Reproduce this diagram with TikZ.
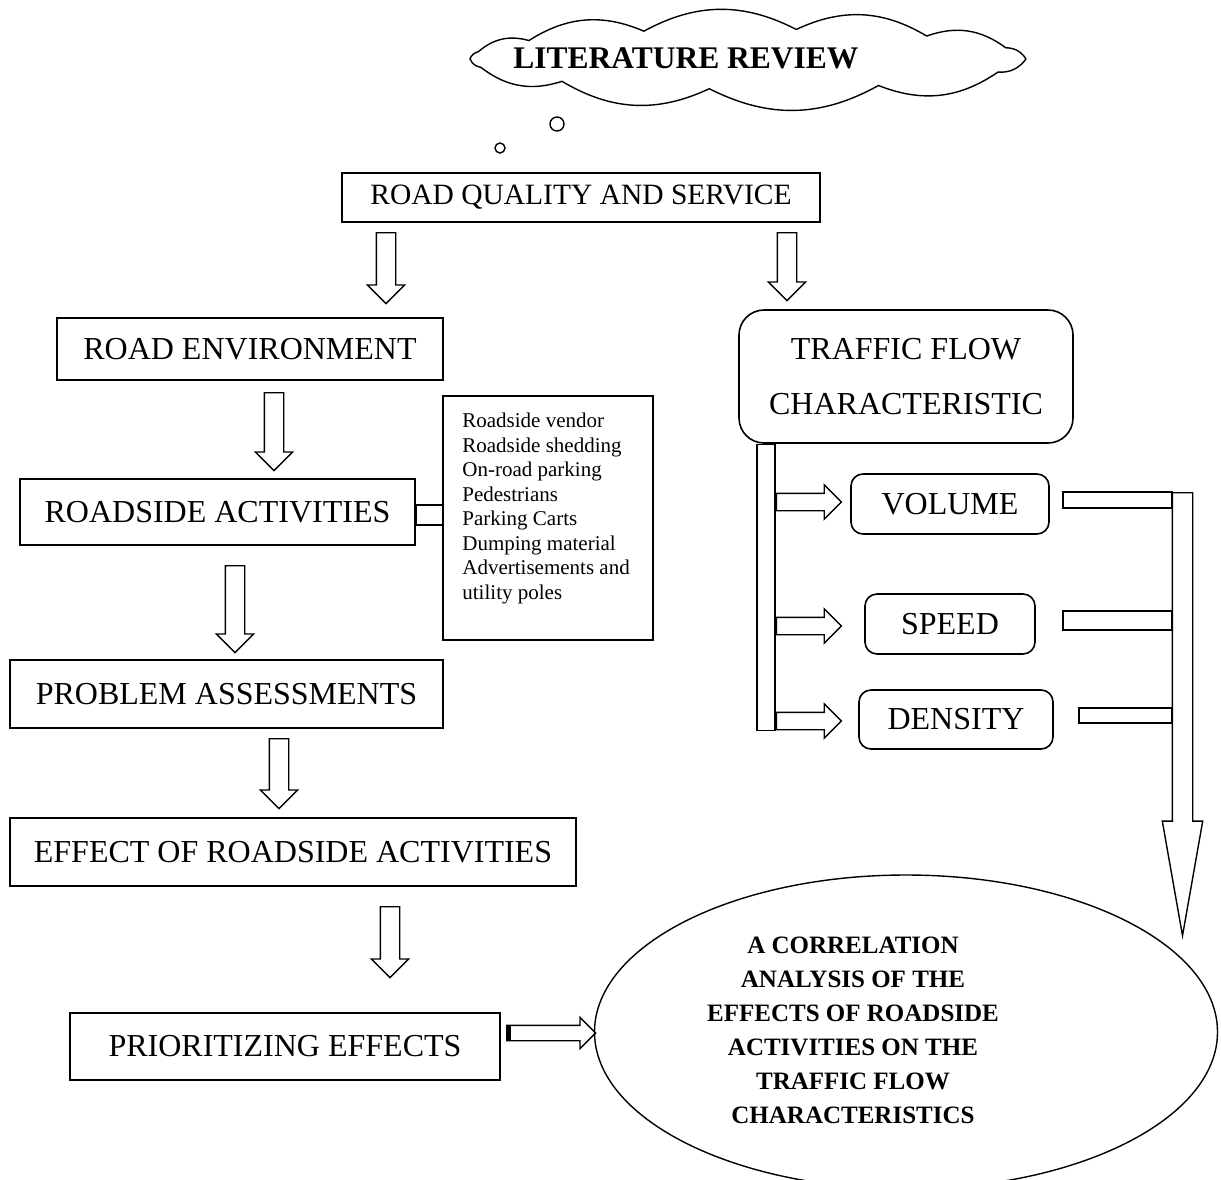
\documentclass[tikz,border=0pt]{standalone}
\usepackage{fontspec}
\setmainfont{Liberation Serif}
\usepackage{tikz}
\usetikzlibrary{positioning,calc,shapes.geometric,shapes.arrows}

\begin{document}
\begin{tikzpicture}[
    x=1pt, y=-1pt,
    box/.style={rectangle, draw, line width=1.6pt, inner sep=0pt, font=\fontsize{32}{38}\selectfont},
    rbox/.style={box, rounded corners=12pt},
    bar/.style={rectangle, draw, line width=1.4pt, inner sep=0pt},
    hollow/.style={single arrow, draw, line width=1.4pt, inner xsep=0pt, inner ysep=9pt, single arrow head extend=9pt, anchor=tail},
    downarrow/.style={hollow, rotate=-90},
    sidearrow/.style={hollow, inner ysep=8pt, single arrow head extend=8.5pt, minimum height=65pt}
]
    \path[use as bounding box, clip] (0,0) rectangle (1221,1179);

    % Cloud and bubbles
    \coordinate (cc) at (748,59);
    \foreach \a [count=\i] in {0,22,50,80,112,142,166,180,196,228,262,298,334}
        \coordinate (cp\i) at ($(cc)+(\a:278pt and 30pt)$);
    \draw[line width=1.4pt] (cp1) \foreach \i in {2,...,13} { to[bend right=28] (cp\i) } to[bend right=28] (cp1);
    \node[font=\bfseries\fontsize{31.5}{36}\selectfont] (lit) at (686,58) {LITERATURE REVIEW};
    \node[circle, draw, line width=1.4pt, minimum size=14pt, inner sep=0pt] (bub1) at (557,124) {};
    \node[circle, draw, line width=1.4pt, minimum size=10pt, inner sep=0pt] (bub2) at (500,148) {};

    % Left column
    \node[box, minimum width=478pt, minimum height=49pt, font=\fontsize{29.5}{35}\selectfont] (rqs) at (581,197.5) {ROAD QUALITY AND SERVICE};
    \node[box, minimum width=386pt, minimum height=62pt] (renv) at (250,349) {ROAD ENVIRONMENT};
    \node[box, minimum width=395pt, minimum height=66pt] (ract) at (217.5,512) {ROADSIDE ACTIVITIES};
    \node[box, minimum width=433pt, minimum height=68pt] (prob) at (226.5,694) {PROBLEM ASSESSMENTS};
    \node[box, minimum width=566pt, minimum height=68pt] (eff) at (293,852) {EFFECT OF ROADSIDE ACTIVITIES};
    \node[box, minimum width=430pt, minimum height=67pt] (prio) at (285,1046.5) {PRIORITIZING EFFECTS};

    % List of activities
    \node[box, minimum width=210pt, minimum height=244pt] (acts) at (548,518) {};
    \node[anchor=north west, align=left, inner sep=0pt, font=\fontsize{21}{24.5}\selectfont] (actlist) at ($(acts.north west)+(20,18)$)
        {Roadside vendor\\Roadside shedding\\On-road parking\\Pedestrians\\Parking Carts\\Dumping material\\Advertisements and\\utility poles};
    \draw[bar] (ract.east |- 0,505) rectangle (acts.west |- 0,525);

    % Right column
    \node[box, rounded corners=25pt, minimum width=334pt, minimum height=133pt, align=center, font=\fontsize{32}{55}\selectfont] (tfc) at (906,376.5) {TRAFFIC FLOW\\CHARACTERISTIC};
    \node[bar, minimum width=18pt, minimum height=286pt, anchor=north] (tfbar) at (tfc.south -| 766,0) {};
    \node[rbox, minimum width=198pt, minimum height=60pt] (vol) at (950,504) {VOLUME};
    \node[rbox, minimum width=170pt, minimum height=60pt] (spd) at (950,624) {SPEED};
    \node[rbox, minimum width=194pt, minimum height=59pt] (dens) at (956,719.5) {DENSITY};
    \node[sidearrow] (avol) at (tfbar.east |- 0,502) {};
    \node[sidearrow] (aspd) at (tfbar.east |- 0,626) {};
    \node[sidearrow] (adens) at (tfbar.east |- 0,721) {};
    \node[bar, minimum width=109pt, minimum height=16pt] (volbar) at (1117.5,500) {};
    \node[bar, minimum width=109pt, minimum height=19pt] (spdbar) at (1117.5,620.5) {};
    \node[bar, minimum width=93pt, minimum height=15pt] (densbar) at (1125.5,715.5) {};
    \node[downarrow, inner ysep=9.5pt, single arrow head extend=10pt, single arrow tip angle=20, minimum height=443pt] (bigarr) at (1182.5,492) {};

    % Down arrows
    \node[downarrow, minimum height=71pt] (a1) at (386,232) {};
    \node[downarrow, minimum height=68pt] (a2) at (787,232) {};
    \node[downarrow, minimum height=78pt] (a3) at (274,392) {};
    \node[downarrow, minimum height=87pt] (a4) at (235,565) {};
    \node[downarrow, minimum height=70pt] (a5) at (279,738) {};
    \node[downarrow, minimum height=71pt] (a6) at (390,906) {};

    % Conclusion
    \node[hollow, inner ysep=7pt, single arrow head extend=8pt, minimum height=89pt] (aprio) at (506,1033) {};
    \fill ($(aprio.tail)+(0,-7)$) rectangle ++(5,14);
    \node[ellipse, draw, line width=1.4pt, minimum width=623pt, minimum height=314pt] (concl) at (906,1032) {};
    \node[align=center, font=\bfseries\fontsize{25}{34}\selectfont] (concltxt) at (853,1030)
        {A CORRELATION\\ANALYSIS OF THE\\EFFECTS OF ROADSIDE\\ACTIVITIES ON THE\\TRAFFIC FLOW\\CHARACTERISTICS};
\end{tikzpicture}
\end{document}
